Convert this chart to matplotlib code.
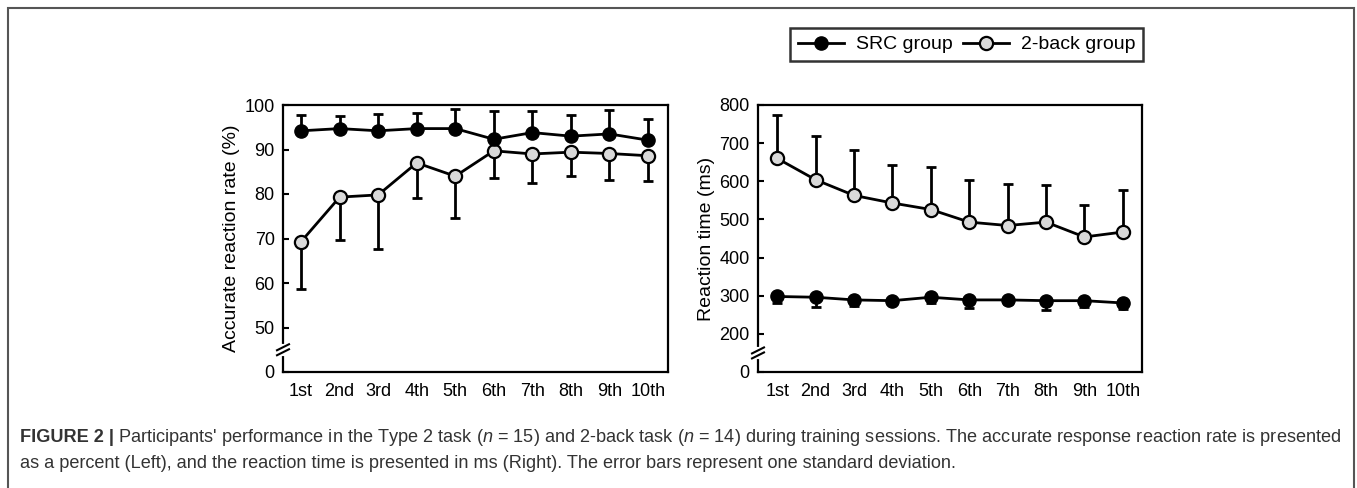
import matplotlib
matplotlib.use('Agg')
import matplotlib.pyplot as plt
from matplotlib.lines import Line2D
from matplotlib.patches import Rectangle
import numpy as np

plt.rcParams['font.family'] = ['Liberation Sans', 'DejaVu Sans']
plt.rcParams['mathtext.fontset'] = 'custom'
plt.rcParams['mathtext.rm'] = 'Liberation Sans'
plt.rcParams['mathtext.it'] = 'Liberation Sans:italic'

# 数据
sessions = ['1st', '2nd', '3rd', '4th', '5th', '6th', '7th', '8th', '9th', '10th']

# 正确率 (%)
acc_src = [94.2, 94.7, 94.2, 94.7, 94.7, 92.3, 93.8, 93.0, 93.5, 92.1]
acc_src_sd = [3.5, 2.8, 3.7, 3.6, 4.4, 6.4, 4.9, 4.7, 5.4, 4.7]
acc_2back = [69.3, 79.3, 79.8, 87.0, 84.0, 89.7, 89.0, 89.4, 89.1, 88.6]
acc_2back_sd = [10.6, 9.7, 12.2, 7.8, 9.3, 6.2, 6.5, 5.3, 5.9, 5.7]

# 反应时 (ms)
rt_src = [298, 296, 289, 287, 296, 289, 289, 287, 287, 281]
rt_src_sd = [16, 25, 15, 10, 14, 20, 11, 24, 16, 16]
rt_2back = [660, 604, 563, 543, 526, 493, 484, 493, 454, 467]
rt_2back_sd = [115, 116, 119, 101, 111, 110, 109, 97, 84, 109]

W, H = 1357, 488
fig = plt.figure(figsize=(W / 100, H / 100), dpi=100)

def px_axes(x0, y0, x1, y1):
    return fig.add_axes([x0 / W, 1 - y1 / H, (x1 - x0) / W, (y1 - y0) / H])

grey = '#d9d9d9'
x = np.arange(1, 11)

def draw(ax, src, src_sd, back, back_sd, src_up, ylo, yhi, ticks, labels, brk):
    # 误差线只画单侧
    if src_up:
        src_err = [np.zeros(10), src_sd]
        back_err = [back_sd, np.zeros(10)]
    else:
        src_err = [src_sd, np.zeros(10)]
        back_err = [np.zeros(10), back_sd]
    ax.errorbar(x, back, yerr=back_err, fmt='none', ecolor='black', elinewidth=2,
                capsize=3.5, capthick=2, zorder=2)
    ax.errorbar(x, src, yerr=src_err, fmt='none', ecolor='black', elinewidth=2,
                capsize=3.5, capthick=2, zorder=2)
    ax.plot(x, back, '-o', color='black', lw=2, ms=9.5, mfc=grey, mec='black',
            mew=1.6, zorder=3)
    ax.plot(x, src, '-o', color='black', lw=2, ms=9.5, mfc='black', mec='black',
            zorder=4)
    ax.set_ylim(ylo, yhi)
    ax.set_yticks(ticks)
    ax.set_yticklabels(labels)
    ax.set_xticks(x)
    ax.set_xticklabels(sessions)
    ax.tick_params(axis='y', direction='in', length=4, width=1.5, labelsize=13, pad=6)
    ax.tick_params(axis='x', length=0, labelsize=13, pad=8)
    for s in ax.spines.values():
        s.set_linewidth(1.6)
    # 坐标轴断裂标记
    tr = ax.get_yaxis_transform()
    h = (yhi - ylo) / 267.0  # 每像素数据单位
    ax.plot([0, 0], [brk - 4 * h, brk + 4 * h], color='white', lw=3,
            transform=tr, clip_on=False, zorder=5)
    for off in (-2.5, 2.5):
        ax.plot([-6 / 385, 6 / 385], [brk + (off - 3) * h, brk + (off + 3) * h],
                color='black', lw=1.5, transform=tr, clip_on=False, zorder=6)

ax1 = px_axes(283, 105, 668, 372)
draw(ax1, acc_src, acc_src_sd, acc_2back, acc_2back_sd, True, 40, 100,
     [40, 50, 60, 70, 80, 90, 100], ['0', '50', '60', '70', '80', '90', '100'], 45)
ax1.set_xlim(0.53, 10.52)
ax1.set_ylabel('Accurate reaction rate (%)', fontsize=14, labelpad=3)

ax2 = px_axes(758, 105, 1142, 372)
draw(ax2, rt_src, rt_src_sd, rt_2back, rt_2back_sd, False, 100, 800,
     [100, 200, 300, 400, 500, 600, 700, 800],
     ['0', '200', '300', '400', '500', '600', '700', '800'], 150)
ax2.set_xlim(0.5, 10.5)
ax2.set_ylabel('Reaction time (ms)', fontsize=14, labelpad=3)

# 图例
handles = [Line2D([], [], color='black', lw=2, marker='o', ms=9.5, mfc='black', mec='black'),
           Line2D([], [], color='black', lw=2, marker='o', ms=9.5, mfc=grey, mec='black', mew=1.6)]
leg = fig.legend(handles, ['SRC group', '2-back group'], loc='upper left',
                 bbox_to_anchor=(790 / W, 1 - 28 / H), ncol=2, fontsize=14,
                 frameon=True, fancybox=False, handlelength=2.4, handletextpad=0.6,
                 columnspacing=0.5, borderpad=0.4, borderaxespad=0)
leg.get_frame().set_edgecolor('black')
leg.get_frame().set_linewidth(1.8)

# 外框
fig.patches.append(Rectangle((8 / W, -0.05), (1354 - 8) / W, 1.05 - 8 / H,
                             transform=fig.transFigure, fill=False,
                             edgecolor='#555555', lw=1.5))

# 图注
cap = '#333333'
fs_cap = 13.1
t0 = fig.text(20 / W, 1 - 438 / H, 'FIGURE 2 |', fontsize=fs_cap, fontweight='bold',
              color=cap, va='center')
fig.canvas.draw()
bb = t0.get_window_extent()
fig.text((bb.x1 + 4) / W, 1 - 438 / H,
         "Participants' performance in the Type 2 task ($\\it{n}$ = 15) and 2-back task "
         "($\\it{n}$ = 14) during training sessions. The accurate response reaction rate is presented",
         fontsize=fs_cap, color=cap, va='center')
fig.text(20 / W, 1 - 463 / H,
         "as a percent (Left), and the reaction time is presented in ms (Right). "
         "The error bars represent one standard deviation.",
         fontsize=fs_cap, color=cap, va='center')

fig.savefig('out.png', dpi=100)
